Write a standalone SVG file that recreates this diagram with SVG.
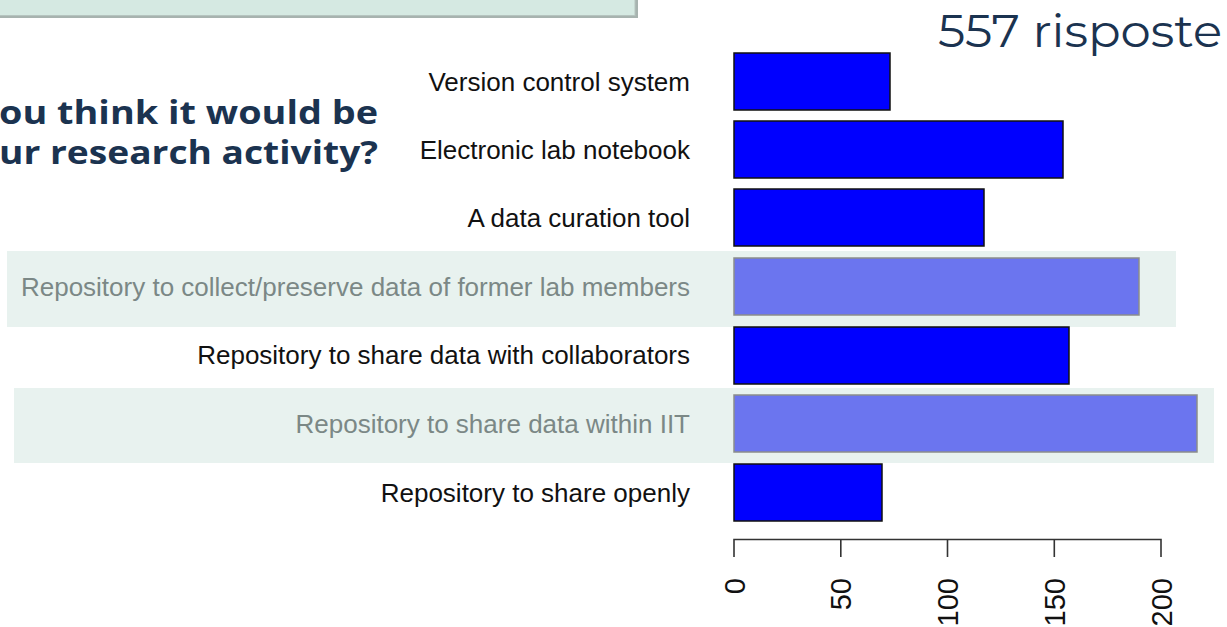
<svg xmlns="http://www.w3.org/2000/svg" width="1227" height="627" viewBox="0 0 1227 627">
<style>
.lbl{font-family:"Liberation Sans",Arial,sans-serif;font-size:26px;text-anchor:end;fill:#111}
.faded{fill:#7b8886}
.band{fill:#e8f2ef}
.bar{fill:#0000ff;stroke:#111;stroke-width:1.5}
.barf{fill:#6b75ef;stroke:#8a8d8c;stroke-width:1.5}
.q{font-family:"Open Sans","Noto Sans",sans-serif;font-weight:700;font-size:32px;fill:#1b3350}
.tick{font-family:"Liberation Sans",Arial,sans-serif;font-size:29px;text-anchor:end;fill:#111}
.axis{stroke:#333;stroke-width:1.6;fill:none}
</style>
<rect width="1227" height="627" fill="#ffffff"/>
<g id="title-box">
<rect x="-2" y="-10" width="640" height="28" fill="#a7b3af"/>
<rect x="-2" y="-10" width="637" height="25.5" fill="#d5e9e2" stroke="#b5c4bf" stroke-width="1"/>
</g>
<g id="question">
<text class="q" x="-1" y="124" textLength="379" lengthAdjust="spacingAndGlyphs">ou think it would be</text>
<text class="q" x="-1" y="164" textLength="379" lengthAdjust="spacingAndGlyphs">ur research activity?</text>
</g>
<g id="count">
<text x="938" y="47" font-family="Montserrat,'Open Sans','Noto Sans',sans-serif" font-size="45" fill="#1b3350" textLength="284" lengthAdjust="spacingAndGlyphs">557 risposte</text>
</g>
<g id="bands">
<rect class="band" x="7" y="251" width="1169" height="76"/>
<rect class="band" x="14" y="388" width="1200" height="75"/>
</g>
<g id="row-version-control">
<text class="lbl" x="690" y="90.5">Version control system</text>
<rect class="bar" x="734" y="53" width="156" height="57"/>
</g>
<g id="row-eln">
<text class="lbl" x="690" y="158.5">Electronic lab notebook</text>
<rect class="bar" x="734" y="121" width="329" height="57"/>
</g>
<g id="row-curation">
<text class="lbl" x="690" y="226.5">A data curation tool</text>
<rect class="bar" x="734" y="189" width="250" height="57"/>
</g>
<g id="row-former-members">
<text class="lbl faded" x="690" y="295.5">Repository to collect/preserve data of former lab members</text>
<rect class="barf" x="734" y="258" width="405" height="57"/>
</g>
<g id="row-collaborators">
<text class="lbl" x="690" y="364">Repository to share data with collaborators</text>
<rect class="bar" x="734" y="327" width="335" height="57"/>
</g>
<g id="row-within-iit">
<text class="lbl faded" x="690" y="432.5">Repository to share data within IIT</text>
<rect class="barf" x="734" y="395" width="463" height="57"/>
</g>
<g id="row-openly">
<text class="lbl" x="690" y="501.5">Repository to share openly</text>
<rect class="bar" x="734" y="464" width="148" height="57"/>
</g>
<g id="axis">
<path class="axis" d="M734 557V539.5H1161V557M840.8 539.5V557M947.5 539.5V557M1054.3 539.5V557"/>
<text class="tick" transform="translate(744.5 578) rotate(-90)">0</text>
<text class="tick" transform="translate(851.3 578) rotate(-90)">50</text>
<text class="tick" transform="translate(958 578) rotate(-90)">100</text>
<text class="tick" transform="translate(1064.8 578) rotate(-90)">150</text>
<text class="tick" transform="translate(1171.5 578) rotate(-90)">200</text>
</g>
</svg>
